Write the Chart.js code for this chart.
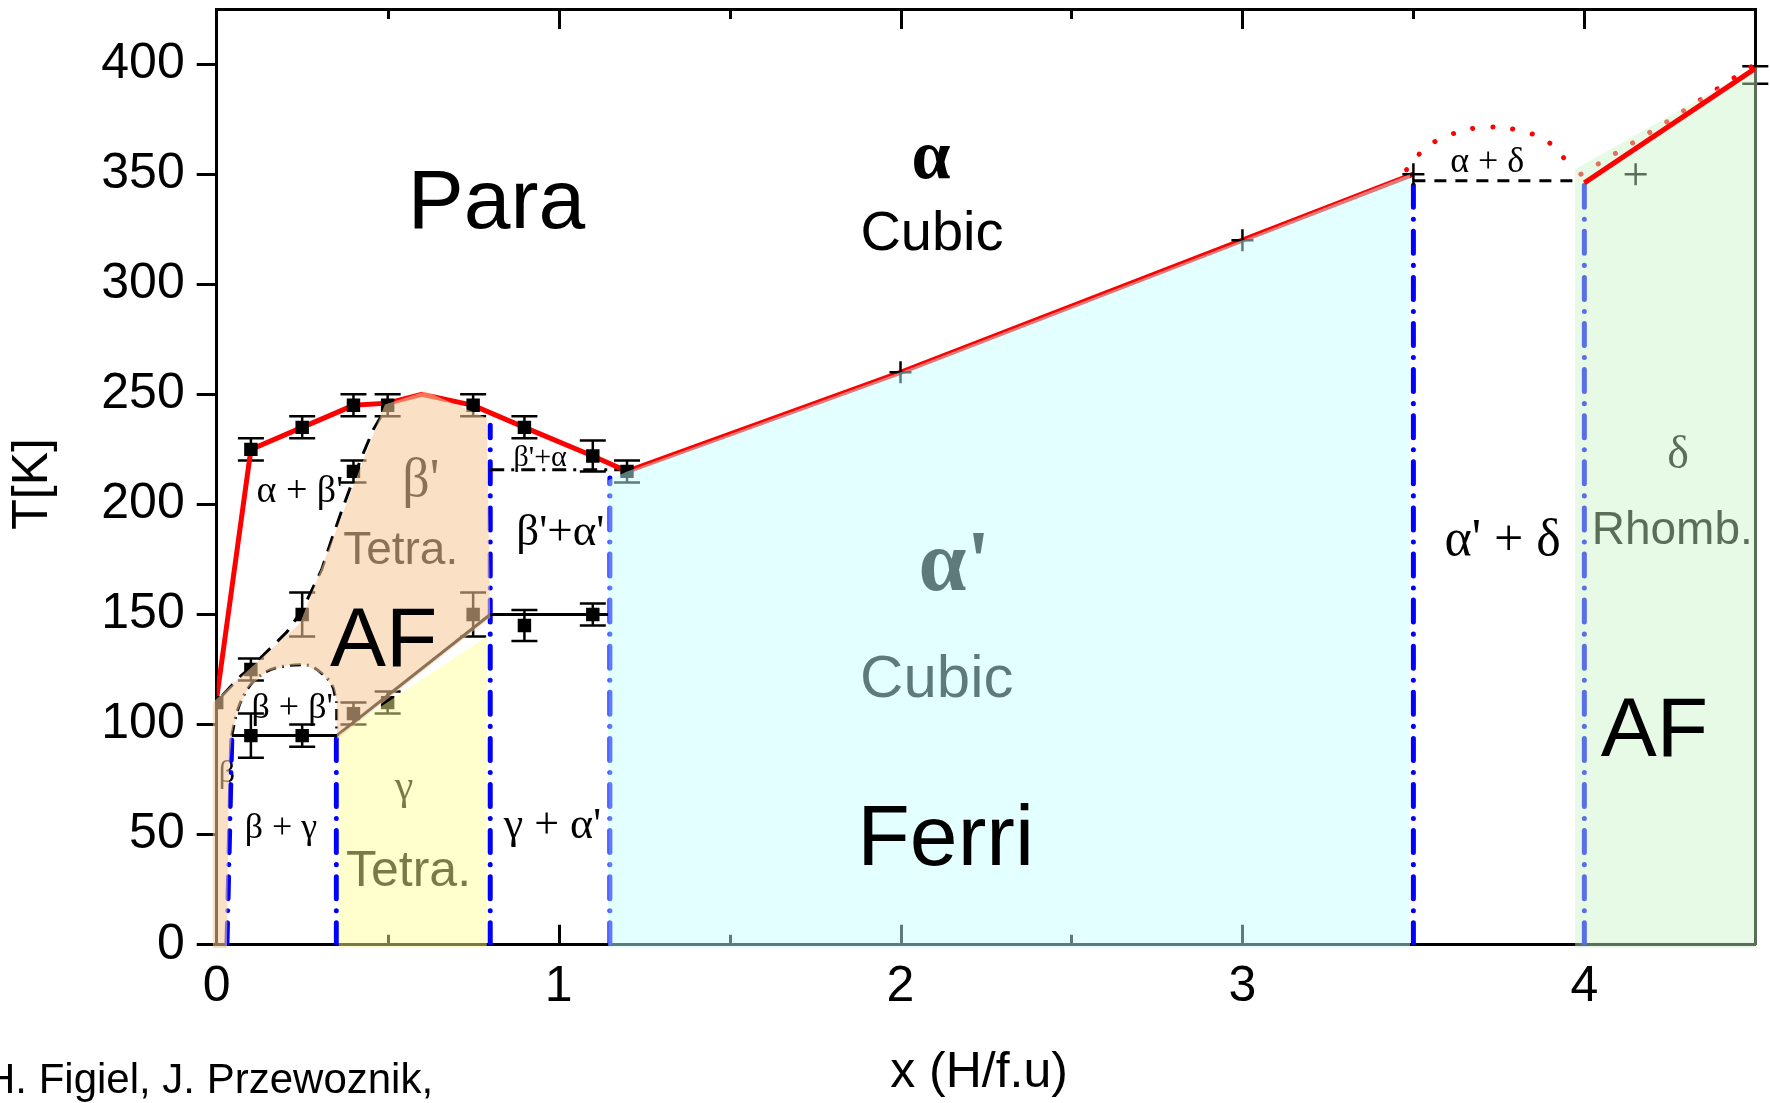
<!DOCTYPE html>
<html>
<head>
<meta charset="utf-8">
<title>Phase diagram x (H/f.u) vs T[K]</title>
<script src="https://cdn.jsdelivr.net/npm/chart.js@4.4.1/dist/chart.umd.min.js"></script>
<style>
  html, body { margin: 0; padding: 0; background: #ffffff; overflow: hidden; }
  canvas { display: block; }
</style>
</head>
<body>
<canvas id="chart" width="1770" height="1103"></canvas>
<script>
// ---- measured transition points (x in H/f.u, T in K) ----
const upperX   = [0.1, 0.25, 0.4, 0.5, 0.75, 0.9, 1.1, 1.2];
const upperT   = [225, 235, 245, 245, 245, 235, 222, 215];
const upperErr = [5, 5, 5, 5, 5, 5, 7, 5];

const midX   = [0, 0.1, 0.25, 0.4];
const midT   = [110, 125, 150, 215];
const midErr = [0, 5, 10, 5];

const lowX   = [0.1, 0.25, 0.4, 0.5, 0.75, 0.9, 1.1];
const lowT   = [95, 95, 105, 110, 150, 145, 150];
const lowErr = [10, 5, 5, 5, 10, 7, 5];

const crossX = [2, 3, 3.5, 4.15];
const crossT = [260, 320, 350, 350];

const edgeX   = [4.5];
const edgeT   = [395];
const edgeErr = [4];

// ---- phase boundaries ----
const tcX = [0, 0.1, 0.25, 0.4, 0.5, 0.6, 0.75, 0.9, 1.1, 1.2, 2, 3, 3.5];
const tcT = [112, 225, 235, 245, 246, 250, 245, 235, 222, 215, 260, 320, 350];

const tcDeltaX = [4.0, 4.5];
const tcDeltaT = [346, 398];

const domeArcX = [3.48, 3.53, 3.6, 3.716, 3.83, 3.9, 3.955];
const domeArcT = [352, 361, 367.5, 371.4, 369, 364, 354.5];
const deltaTopX = [3.99, 4.05, 4.23, 4.406, 4.5];
const deltaTopT = [350, 355.5, 372.6, 390.5, 400];

const alphaBetaX = [0.015, 0.07, 0.1, 0.205, 0.25, 0.307, 0.336, 0.37, 0.42, 0.458, 0.5];
const alphaBetaT = [113, 122, 126, 142, 152, 170.4, 184, 199, 220, 234, 245];

const bbDomeX = [0.044, 0.058, 0.092, 0.146, 0.205, 0.258, 0.312, 0.341, 0.351, 0.351];
const bbDomeT = [95, 105, 116.6, 124.1, 126.7, 127.2, 122.6, 116.6, 111, 95];

const lowLineX = [0.044, 0.351];       const lowLineT = [95, 95];
const afLineX  = [0.351, 0.8];         const afLineT  = [95, 150];
const midLineX = [0.8, 1.145];         const midLineT = [150, 150];
const bpaLineX = [0.8, 1.19];          const bpaLineT = [215.8, 215.8];
const adLineX  = [3.5, 3.99];          const adLineT  = [347, 347];

// vertical two-phase limits: [x bottom, x top, T top]
const limitX0 = [0.03, 0.35, 0.8, 1.15, 3.5, 4.0];
const limitX1 = [0.044, 0.35, 0.8, 1.15, 3.5, 4.0];
const limitT  = [93, 95, 236, 212, 350, 346];

// ---- single-phase regions (polygons) ----
const afPolyX = [-0.012, 0.03, 0.036, 0.044, 0.058, 0.092, 0.146, 0.205, 0.258, 0.312, 0.341, 0.351, 0.352, 0.8, 0.79, 0.61, 0.492, 0.331, 0.244, -0.012];
const afPolyT = [-1.5, -1.5, 80, 95, 105, 116.6, 124.1, 126.7, 127.2, 122.6, 116.6, 111, 93.5, 148.5, 239.3, 251.4, 245.4, 181, 146, 110];

const gammaPolyX = [0.357, 0.357, 0.79, 0.79];
const gammaPolyT = [-1.5, 95.5, 140, -1.5];

const ferriPolyX = [1.145, 1.145, 1.2, 2, 3, 3.49, 3.49];
const ferriPolyT = [-1.5, 211, 215, 260, 320, 350, -1.5];

const deltaPolyX = [3.973, 3.973, 4.5, 4.506, 4.506];
const deltaPolyT = [-1.5, 352.2, 398.4, 398.4, -1.5];

// ---- axes ----
const xTickLabels = ['0', '1', '2', '3', '4'];
const yTickValues = [0, 50, 100, 150, 200, 250, 300, 350, 400];

const SANS = '"Liberation Sans", Arial, sans-serif';
const SERIF = '"Liberation Serif", "Times New Roman", serif';

// labels sitting beneath the tinted regions
const underLabels = [
  { text: "β'",     x: 0.597, y: 203.7, font: `54px ${SERIF}` },
  { text: 'Tetra.', x: 0.538, y: 172.9, font: `46px ${SANS}` },
  { text: 'γ',      x: 0.548, y: 66.2,  font: `42px ${SERIF}` },
  { text: 'Tetra.', x: 0.561, y: 26.7,  font: `50px ${SANS}` },
  { text: "α'",     x: 2.158, y: 161.1, font: `bold 86px ${SERIF}` },
  { text: 'Cubic',  x: 2.106, y: 112.4, font: `60px ${SANS}` },
  { text: 'δ',      x: 4.274, y: 216.5, font: `46px ${SERIF}` },
  { text: 'Rhomb.', x: 4.257, y: 182.1, font: `46px ${SANS}` },
  { text: 'β',      x: 0.03,  y: 73.9,  font: `32px ${SERIF}` }
];

// labels drawn on top of everything
const overLabels = [
  { text: 'Para',   x: 0.818, y: 325.4, font: `84px ${SANS}` },
  { text: 'α',      x: 2.089, y: 348.4, font: `bold 70px ${SERIF}` },
  { text: 'Cubic',  x: 2.092, y: 315.5, font: `56px ${SANS}` },
  { text: 'Ferri',  x: 2.132, y: 36.4,  font: `86px ${SANS}` },
  { text: 'AF',     x: 0.488, y: 126.7, font: `84px ${SANS}` },
  { text: 'AF',     x: 4.205, y: 85.7,  font: `84px ${SANS}` },
  { text: "α + β'", x: 0.243, y: 201.1, font: `38px ${SERIF}` },
  { text: "β + β'", x: 0.221, y: 103.1, font: `36px ${SERIF}` },
  { text: 'β + γ',  x: 0.188, y: 48.7,  font: `36px ${SERIF}` },
  { text: "γ + α'", x: 0.982, y: 48.7,  font: `44px ${SERIF}` },
  { text: "β'+α'",  x: 1.005, y: 181.6, font: `45px ${SERIF}` },
  { text: "β'+α",   x: 0.946, y: 217.5, font: `30px ${SERIF}` },
  { text: "α' + δ", x: 3.761, y: 177,   font: `52px ${SERIF}` },
  { text: 'α + δ',  x: 3.716, y: 351,   font: `36px ${SERIF}` }
];

const pts = (xs, ts) => xs.map((x, i) => ({ x: x, y: ts[i] }));

function lineSet(xs, ts, color, width, dash, extra) {
  return Object.assign({
    data: pts(xs, ts), showLine: true, pointRadius: 0, borderColor: color,
    borderWidth: width, borderDash: dash || [], tension: 0, fill: false, order: 5
  }, extra || {});
}
function regionSet(xs, ts, color) {
  return {
    data: pts(xs, ts), showLine: true, pointRadius: 0, borderWidth: 0,
    backgroundColor: color, fill: 'shape', tension: 0, order: 1
  };
}
function squareSet(xs, ts) {
  return {
    data: pts(xs, ts), showLine: false, pointStyle: 'rect', pointRadius: 9.5,
    backgroundColor: '#000', borderWidth: 0, order: 4
  };
}

const datasets = [
  // tinted phase regions (semi-transparent, drawn over the boundaries)
  regionSet(afPolyX, afPolyT, 'rgba(246, 202, 154, 0.565)'),
  regionSet(gammaPolyX, gammaPolyT, 'rgba(255, 255, 150, 0.48)'),
  regionSet(ferriPolyX, ferriPolyT, 'rgba(197, 255, 255, 0.48)'),
  regionSet(deltaPolyX, deltaPolyT, 'rgba(200, 244, 200, 0.45)'),

  // boundaries
  lineSet(tcX, tcT, '#ff0000', 5),
  lineSet(tcDeltaX, tcDeltaT, '#ff0000', 5, [], { order: 0 }),
  lineSet(domeArcX, domeArcT, '#ff0000', 5, [0.1, 20], { tension: 0.4, borderCapStyle: 'round' }),
  lineSet(deltaTopX, deltaTopT, '#ff0000', 5, [0.1, 20], { borderCapStyle: 'round' }),
  lineSet(alphaBetaX, alphaBetaT, '#000', 3, [16, 10]),
  lineSet(bbDomeX, bbDomeT, '#000', 3, [11, 6, 2, 6], { tension: 0.35, cubicInterpolationMode: 'monotone' }),
  lineSet(lowLineX, lowLineT, '#000', 3),
  lineSet(afLineX, afLineT, '#000', 3),
  lineSet(midLineX, midLineT, '#000', 3),
  lineSet(bpaLineX, bpaLineT, '#000', 3, [14, 7, 3, 7]),
  lineSet(adLineX, adLineT, '#000', 3, [12, 9]),

  // measured points
  squareSet(upperX, upperT),
  squareSet(midX, midT),
  squareSet(lowX, lowT),
  {
    data: pts(crossX, crossT), showLine: false, pointStyle: 'cross', pointRadius: 11,
    borderColor: '#000', borderWidth: 2.5, order: 4
  }
];

limitX0.forEach((x0, i) => {
  datasets.push(lineSet([x0, limitX1[i]], [0, limitT[i]], '#0000ff', 5, [22, 12, 0.1, 12],
    { borderCapStyle: 'round' }));
});

const errorSeries = [
  [upperX, upperT, upperErr],
  [midX, midT, midErr],
  [lowX, lowT, lowErr],
  [edgeX, edgeT, edgeErr]
];

function drawLabelList(chart, list) {
  const { ctx, scales: { x, y } } = chart;
  ctx.save();
  ctx.fillStyle = '#000';
  ctx.textAlign = 'center';
  ctx.textBaseline = 'alphabetic';
  for (const l of list) {
    ctx.font = l.font;
    ctx.fillText(l.text, x.getPixelForValue(l.x), y.getPixelForValue(l.y));
  }
  ctx.restore();
}

function drawErrorBars(chart) {
  const { ctx, scales: { x, y } } = chart;
  ctx.save();
  ctx.strokeStyle = '#000';
  ctx.lineWidth = 2.5;
  for (const [xs, ts, es] of errorSeries) {
    xs.forEach((xv, i) => {
      if (!es[i]) return;
      const px = x.getPixelForValue(xv);
      const lo = y.getPixelForValue(ts[i] - es[i]);
      const hi = y.getPixelForValue(ts[i] + es[i]);
      ctx.beginPath();
      ctx.moveTo(px, lo); ctx.lineTo(px, hi);
      ctx.moveTo(px - 13, lo); ctx.lineTo(px + 13, lo);
      ctx.moveTo(px - 13, hi); ctx.lineTo(px + 13, hi);
      ctx.stroke();
    });
  }
  ctx.restore();
}

// inward tick marks on the bottom and top frame (major every 1, minor every 0.5)
function drawInwardTicks(chart) {
  const { ctx, scales: { x, y } } = chart;
  const bottom = y.getPixelForValue(0);
  const top = chart.scales.xTop.bottom;
  ctx.save();
  ctx.strokeStyle = '#000';
  ctx.lineWidth = 3;
  for (let v = 0.5; v < 4.5; v += 0.5) {
    const px = Math.round(x.getPixelForValue(v)) + 0.5;
    const len = Number.isInteger(v) ? 20 : 10;
    ctx.beginPath();
    ctx.moveTo(px, bottom); ctx.lineTo(px, bottom - len);
    ctx.moveTo(px, top); ctx.lineTo(px, top + len);
    ctx.stroke();
  }
  ctx.restore();
}

const layering = {
  id: 'layering',
  beforeDatasetsDraw(chart) {
    drawInwardTicks(chart);
    drawErrorBars(chart);
    drawLabelList(chart, underLabels);
    // let the region tints reach over the frame lines
    const a = chart.chartArea;
    chart.$savedArea = a;
    chart.chartArea = { left: a.left - 4, top: a.top - 4, right: a.right + 4, bottom: a.bottom + 4,
                        width: a.width + 8, height: a.height + 8 };
  },
  afterDatasetsDraw(chart) {
    if (chart.$savedArea) { chart.chartArea = chart.$savedArea; chart.$savedArea = null; }
    drawLabelList(chart, overLabels);
  },
  afterDraw(chart) {
    const ctx = chart.ctx;
    ctx.save();
    ctx.fillStyle = '#000';
    ctx.font = `42px ${SANS}`;
    ctx.textAlign = 'left';
    ctx.textBaseline = 'alphabetic';
    ctx.fillText('H. Figiel, J. Przewoznik,', -15, 1093);
    ctx.restore();
  }
};

// keep the frame exactly where the axes are sized, no label overhang padding
function noOverhang(s) {
  s.paddingTop = 0; s.paddingBottom = 0; s.paddingLeft = 0; s.paddingRight = 0;
}

new Chart(document.getElementById('chart'), {
  type: 'scatter',
  data: { datasets: datasets },
  options: {
    responsive: false,
    animation: false,
    devicePixelRatio: 1,
    layout: { padding: 0, autoPadding: false },
    plugins: { legend: { display: false }, tooltip: { enabled: false } },
    events: [],
    scales: {
      x: {
        type: 'linear', position: 'bottom', min: 0, max: 4.5,
        ticks: {
          stepSize: 1, includeBounds: false, padding: 12, color: '#000',
          font: { family: SANS, size: 50 },
          callback: (v) => (Number.isInteger(v) && xTickLabels[v] !== undefined) ? xTickLabels[v] : ''
        },
        grid: { drawOnChartArea: false, drawTicks: false },
        border: { display: true, width: 3, color: '#000' },
        title: { display: true, text: 'x (H/f.u) ', color: '#000', font: { family: SANS, size: 50 },
                 padding: { top: 0, bottom: 0 } },
        afterFit: (s) => { s.height = 158.2; noOverhang(s); }
      },
      xTop: {
        type: 'linear', position: 'top', min: 0, max: 4.5, display: true,
        ticks: { display: false },
        grid: { drawOnChartArea: false, drawTicks: false },
        border: { display: true, width: 3, color: '#000' },
        afterFit: (s) => { s.height = 9; noOverhang(s); }
      },
      y: {
        type: 'linear', position: 'left', min: 0, max: 425,
        afterBuildTicks: (s) => { s.ticks = yTickValues.map(v => ({ value: v })); },
        ticks: { padding: 12, color: '#000', font: { family: SANS, size: 50 } },
        grid: { drawOnChartArea: false, drawTicks: true, tickLength: 20, tickWidth: 3, tickColor: '#000' },
        border: { display: true, width: 3, color: '#000' },
        title: { display: true, text: 'T[K] ', color: '#000', font: { family: SANS, size: 50 },
                 padding: { top: 3, bottom: 0 } },
        afterFit: (s) => { s.width = 216.7; noOverhang(s); }
      },
      yRight: {
        type: 'linear', position: 'right', min: 0, max: 425, display: true,
        ticks: { display: false },
        grid: { drawOnChartArea: false, drawTicks: false },
        border: { display: true, width: 3, color: '#000' },
        afterFit: (s) => { s.width = 14.7; noOverhang(s); }
      }
    }
  },
  plugins: [layering]
});
</script>
</body>
</html>
